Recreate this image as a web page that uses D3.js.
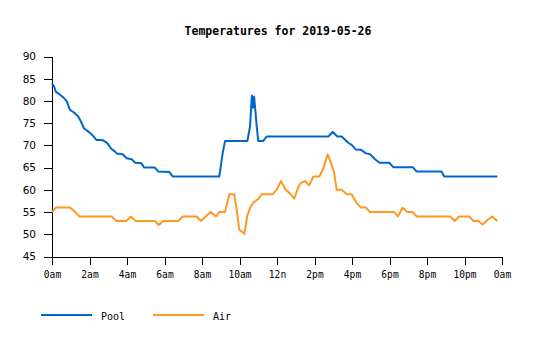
<!DOCTYPE html>
<html><head><meta charset="utf-8">
<script src="https://cdn.jsdelivr.net/npm/d3@7"></script>
<style>
body{margin:0;background:#fff;}
svg{display:block;}
</style></head>
<body>
<svg id="c" width="535" height="340"></svg>
<script>
const title = "Temperatures for 2019-05-26";
const seriesNames = ["Pool", "Air"];
const seriesColors = ["#0066cc", "#ff9922"];
const xTickHours = [0,2,4,6,8,10,12,14,16,18,20,22,24];
const xTickLabels = ["0am","2am","4am","6am","8am","10am","12n","2pm","4pm","6pm","8pm","10pm","0am"];
const yTicks = [45,50,55,60,65,70,75,80,85,90];

// time in hours, temperature
const poolHours = [0,0.12,0.2,0.39,0.6,0.78,0.96,1.17,1.4,1.55,1.71,1.94,2.2,2.38,2.7,2.95,3.15,3.36,3.45,3.77,3.98,4.25,4.43,4.78,4.91,5.49,5.67,6.26,6.44,8.92,9.0,9.1,9.23,10.42,10.56,10.66,10.72,10.78,10.92,11.0,11.27,11.45,14.74,14.97,15.22,15.45,15.8,15.98,16.2,16.48,16.75,16.96,17.23,17.46,17.99,18.2,19.24,19.45,20.78,20.92,23.75];
const poolTemps = [84,83.2,82.1,81.5,80.8,80,78,77.4,76.5,75.3,73.8,73.1,72.1,71.2,71.2,70.5,69.3,68.6,68.2,68,67.1,66.9,66.1,66,65,65,64.1,64,63,63,65.2,68.2,71,71,74.2,81.2,78.5,81,74.2,71,71,72,72,73,72,72,70.6,70.1,69.1,69,68.2,68,66.9,66.1,66.1,65.1,65.1,64.1,64.1,63,63];
const airHours = [0,0.21,0.96,1.17,1.46,3.18,3.45,3.98,4.2,4.46,5.49,5.69,5.94,6.74,6.97,7.72,7.93,8.46,8.75,8.92,9.23,9.46,9.71,9.85,9.99,10.26,10.42,10.6,10.77,11.0,11.18,11.76,11.98,12.21,12.46,12.69,12.92,13.14,13.26,13.49,13.71,13.94,14.26,14.47,14.7,14.88,15.04,15.18,15.45,15.72,15.98,16.25,16.48,16.75,16.96,18.26,18.44,18.7,18.95,19.22,19.45,21.23,21.49,21.71,22.26,22.47,22.74,22.97,23.22,23.48,23.75];
const airTemps = [55,56,56,55.3,54,54,53,53,54,53,53,52.1,53,53,54,54,53,55,54,55,55,59,59,55.5,51,50.1,54.3,56.2,57.3,57.9,59,59,60,62,60,59.2,58,60.7,61.5,62,61,63,63,64.8,68,66,64,60,60,59,59,57,56,56,55,55,54,56,55,55,54,54,53,54,54,53,53,52.2,53.2,54,53];

const svg = d3.select("#c");
const margin = {left:52, right:33, top:56.5, bottom:83.5};
const W = 535, H = 340;
const x = d3.scaleLinear().domain([0,24]).range([margin.left, W - margin.right]);
const y = d3.scaleLinear().domain([45,90]).range([H - margin.bottom, margin.top]);

svg.append("text")
  .attr("x", (margin.left + W - margin.right)/2 + 1)
  .attr("y", 35)
  .attr("text-anchor","middle")
  .attr("font-family","'DejaVu Sans Mono', monospace")
  .attr("font-weight","bold")
  .attr("font-size","11.5px")
  .attr("fill","#000")
  .text(title);

const xAxis = d3.axisBottom(x).tickValues(xTickHours)
  .tickFormat((d,i)=>xTickLabels[i]).tickSize(8).tickSizeOuter(0);
const gx = svg.append("g").attr("transform",`translate(0,${y(45)})`).call(xAxis);
gx.selectAll("text").attr("font-family","'DejaVu Sans Mono', monospace").attr("font-size","9.6px").attr("dy","0.9em").attr("y",13);
gx.selectAll("path,line").attr("stroke","#000").attr("shape-rendering","crispEdges");

const yAxis = d3.axisLeft(y).tickValues(yTicks).tickSize(8).tickSizeOuter(0);
const gy = svg.append("g").attr("transform",`translate(${margin.left},0)`).call(yAxis);
gy.selectAll("text").attr("font-family","'DejaVu Sans', Verdana, sans-serif").attr("font-size","10.5px").attr("x",-16);
gy.selectAll("path,line").attr("stroke","#000").attr("shape-rendering","crispEdges");
gy.select(".domain").remove();
gy.append("line").attr("x1",0).attr("x2",0).attr("y1",y(90)).attr("y2",y(45)+8).attr("stroke","#000").attr("shape-rendering","crispEdges");

const line = d3.line().x(d=>x(d[0])).y(d=>y(d[1]));
const data = [d3.zip(poolHours, poolTemps), d3.zip(airHours, airTemps)];
data.forEach((pts,i)=>{
  svg.append("path").datum(pts)
    .attr("d", line)
    .attr("fill","none")
    .attr("stroke", seriesColors[i])
    .attr("stroke-width", 2)
    .attr("stroke-linejoin","round");
});

// legend
const legendX = [41, 153];
seriesNames.forEach((n,i)=>{
  const g = svg.append("g").attr("transform",`translate(${legendX[i]},315)`);
  g.append("line").attr("x1",0).attr("x2",51).attr("y1",0).attr("y2",0)
    .attr("stroke",seriesColors[i]).attr("stroke-width",2);
  g.append("text").attr("x",60).attr("y",5)
    .attr("font-family","'DejaVu Sans Mono', monospace").attr("font-size","10px").text(n);
});
</script>
</body></html>
